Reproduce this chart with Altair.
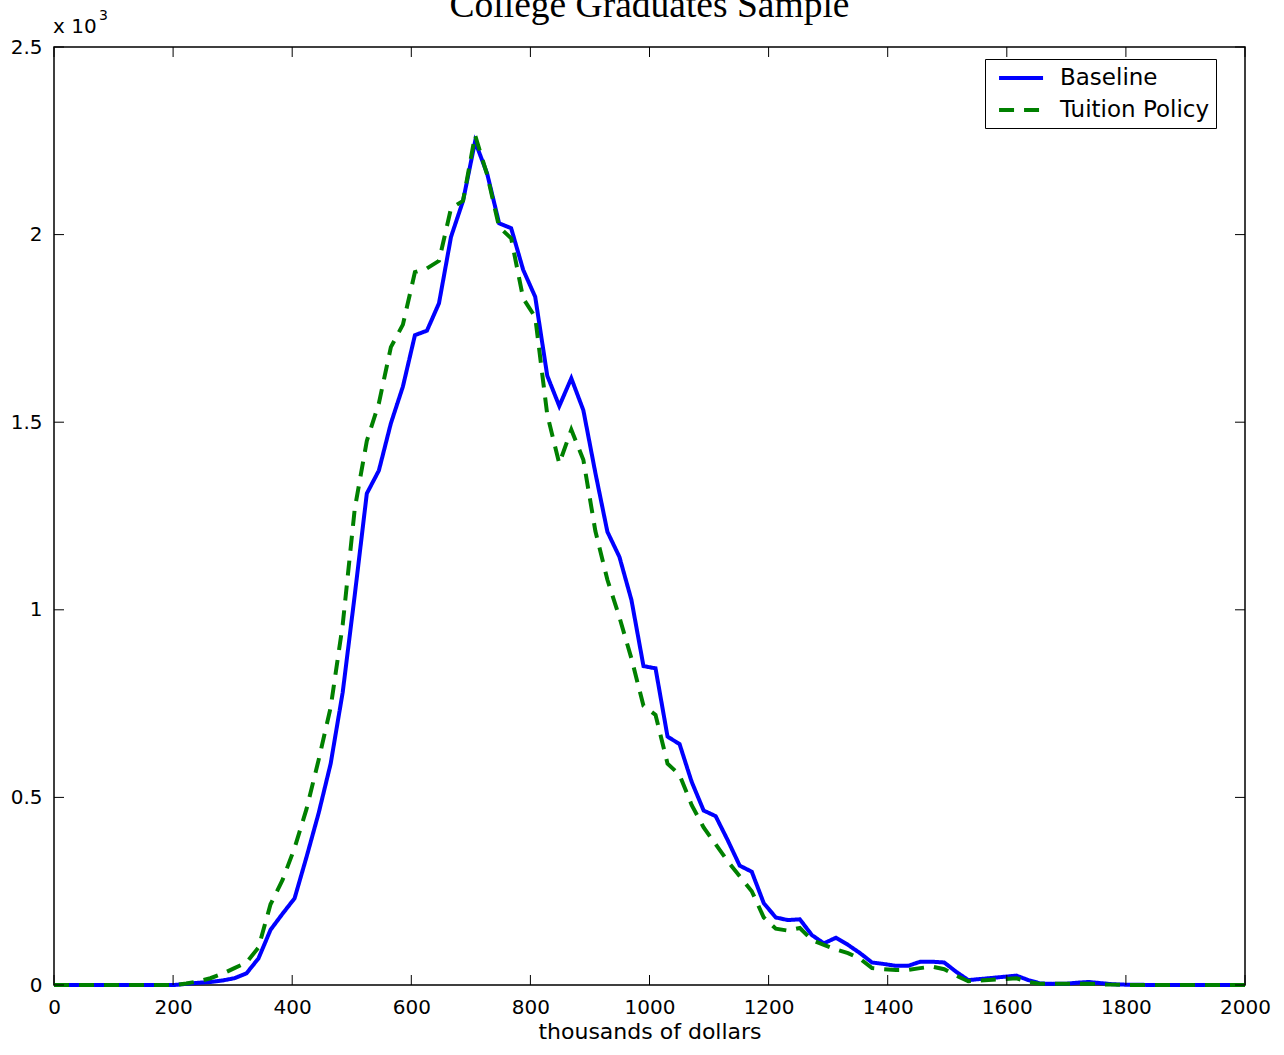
import altair as alt
import pandas as pd

# bin centres (thousands of dollars)
x_vals = [0, 20.2, 40.4, 60.6, 80.8, 101, 121.2, 141.4, 161.6, 181.8,
          202, 222.2, 242.4, 262.6, 282.8, 303, 323.2, 343.4, 363.6, 383.8,
          404, 424.2, 444.4, 464.6, 484.8, 505.1, 525.3, 545.5, 565.7, 585.9,
          606.1, 626.3, 646.5, 666.7, 686.9, 707.1, 727.3, 747.5, 767.7, 787.9,
          808.1, 828.3, 848.5, 868.7, 888.9, 909.1, 929.3, 949.5, 969.7, 989.9,
          1010.1, 1030.3, 1050.5, 1070.7, 1090.9, 1111.1, 1131.3, 1151.5, 1171.7, 1191.9,
          1212.1, 1232.3, 1252.5, 1272.7, 1292.9, 1313.1, 1333.3, 1353.5, 1373.7, 1393.9,
          1414.1, 1434.3, 1454.5, 1474.7, 1494.9, 1515.2, 1535.4, 1555.6, 1575.8, 1596,
          1616.2, 1636.4, 1656.6, 1676.8, 1697, 1717.2, 1737.4, 1757.6, 1777.8, 1798,
          1818.2, 1838.4, 1858.6, 1878.8, 1899, 1919.2, 1939.4, 1959.6, 1979.8, 2000]

# counts in thousands (x 10^3)
baseline = [0, 0, 0, 0, 0, 0, 0, 0, 0, 0,
            0, 0.003, 0.006, 0.008, 0.012, 0.018, 0.031, 0.071, 0.147, 0.19,
            0.231, 0.342, 0.458, 0.59, 0.78, 1.04, 1.31, 1.371, 1.497, 1.595,
            1.732, 1.744, 1.817, 1.994, 2.09, 2.248, 2.163, 2.03, 2.017, 1.906,
            1.834, 1.624, 1.543, 1.617, 1.532, 1.365, 1.208, 1.141, 1.026, 0.85,
            0.844, 0.662, 0.642, 0.542, 0.465, 0.45, 0.386, 0.318, 0.302, 0.218,
            0.18, 0.173, 0.175, 0.133, 0.111, 0.126, 0.107, 0.085, 0.06, 0.056,
            0.051, 0.051, 0.062, 0.062, 0.06, 0.035, 0.013, 0.016, 0.019, 0.022,
            0.025, 0.013, 0.004, 0.003, 0.003, 0.006, 0.008, 0.005, 0.002, 0.001,
            0.001, 0, 0, 0, 0, 0, 0, 0, 0, 0]

tuition = [0, 0, 0, 0, 0, 0, 0, 0, 0, 0,
           0, 0.004, 0.01, 0.018, 0.03, 0.045, 0.06, 0.1, 0.215, 0.28,
           0.365, 0.47, 0.6, 0.74, 0.96, 1.27, 1.45, 1.55, 1.7, 1.76,
           1.9, 1.91, 1.93, 2.07, 2.09, 2.265, 2.16, 2.02, 1.99, 1.83,
           1.78, 1.52, 1.39, 1.48, 1.4, 1.21, 1.08, 0.98, 0.87, 0.744,
           0.72, 0.59, 0.56, 0.48, 0.42, 0.375, 0.33, 0.29, 0.25, 0.18,
           0.15, 0.145, 0.152, 0.12, 0.107, 0.095, 0.085, 0.07, 0.045, 0.042,
           0.04, 0.04, 0.045, 0.049, 0.042, 0.025, 0.01, 0.012, 0.014, 0.016,
           0.018, 0.008, 0.003, 0.003, 0.003, 0.003, 0.003, 0.002, 0.001, 0,
           0, 0, 0, 0, 0, 0, 0, 0, 0, 0]

series_names = ["Baseline", "Tuition Policy"]
series_colors = ["#0000ff", "#008000"]
x_ticks = [0, 200, 400, 600, 800, 1000, 1200, 1400, 1600, 1800, 2000]
y_ticks = [0, 0.5, 1, 1.5, 2, 2.5]
title_text = "College Graduates Sample"
x_title = "thousands of dollars"

W, H = 1191, 938
FONT = "DejaVu Sans"

df = pd.DataFrame({
    "x": x_vals + x_vals,
    "y": baseline + tuition,
    "series": [series_names[0]] * len(x_vals) + [series_names[1]] * len(x_vals),
    "order": [0] * len(x_vals) + [1] * len(x_vals),
})

xscale = alt.Scale(domain=[0, 2000], nice=False)
yscale = alt.Scale(domain=[0, 2.5], nice=False)

xaxis = alt.Axis(values=x_ticks, title=x_title, format="d", labelPadding=12,
                 labelOverlap=False, labelFlush=False,
                 titleY=53, titleBaseline="alphabetic", titleFontSize=22)
yaxis = alt.Axis(values=y_ticks, title=None, format="~g", labelPadding=12,
                 labelOverlap=False, labelFlush=False)

legend = alt.Legend(title=None, labelExpr="datum.label + '\u00a0\u00a0'")

lines = alt.Chart(df).mark_line(strokeWidth=4).encode(
    x=alt.X("x:Q", scale=xscale, axis=xaxis, title=x_title),
    y=alt.Y("y:Q", scale=yscale, axis=yaxis, title=None),
    color=alt.Color("series:N", scale=alt.Scale(domain=series_names, range=series_colors),
                    legend=legend),
    strokeDash=alt.StrokeDash("series:N",
                              scale=alt.Scale(domain=series_names, range=[[1, 0], [15, 10]]),
                              legend=legend),
    order="order:Q",
)

xt = pd.DataFrame({"v": x_ticks})
yt = pd.DataFrame({"v": y_ticks})

tick_b = alt.Chart(xt).mark_rule(color="black", strokeWidth=1).encode(
    x=alt.X("v:Q", scale=xscale, axis=xaxis, title=x_title), y=alt.value(H), y2=alt.value(H - 10))
tick_t = alt.Chart(xt).mark_rule(color="black", strokeWidth=1).encode(
    x=alt.X("v:Q", scale=xscale, axis=xaxis, title=x_title), y=alt.value(0), y2=alt.value(10))
tick_l = alt.Chart(yt).mark_rule(color="black", strokeWidth=1).encode(
    y=alt.Y("v:Q", scale=yscale, axis=yaxis, title=None), x=alt.value(0), x2=alt.value(10))
tick_r = alt.Chart(yt).mark_rule(color="black", strokeWidth=1).encode(
    y=alt.Y("v:Q", scale=yscale, axis=yaxis, title=None), x=alt.value(W), x2=alt.value(W - 10))

title = alt.Chart(pd.DataFrame({"t": [title_text]})).mark_text(
    font="Liberation Serif", fontSize=37.5, align="center", baseline="alphabetic",
    color="black").encode(text="t:N", x=alt.value(W / 2), y=alt.value(-30))

mult = alt.Chart(pd.DataFrame({"t": ["x 10"]})).mark_text(
    font=FONT, fontSize=20, align="left", baseline="alphabetic",
    color="black").encode(text="t:N", x=alt.value(-1), y=alt.value(-14))
mult_exp = alt.Chart(pd.DataFrame({"t": ["3"]})).mark_text(
    font=FONT, fontSize=14, align="left", baseline="alphabetic",
    color="black").encode(text="t:N", x=alt.value(45), y=alt.value(-27))

chart = alt.layer(lines, tick_b, tick_t, tick_l, tick_r, title, mult, mult_exp).properties(
    width=W, height=H,
    autosize=alt.AutoSizeParams(type="none"),
    padding={"left": 54, "top": 47, "right": 39, "bottom": 70},
).configure_view(
    stroke="black", strokeWidth=1.5
).configure_axis(
    domain=False, ticks=False, grid=False,
    labelColor="black", labelFont=FONT, labelFontSize=20,
    titleColor="black", titleFont=FONT, titleFontWeight="normal",
).configure_legend(
    orient="none", legendX=931, legendY=12,
    strokeColor="black", fillColor="white", padding=6,
    labelFont=FONT, labelFontSize=23, labelColor="black",
    symbolType="M-0.45,0H3.55", symbolSize=484, symbolStrokeWidth=4, labelOffset=43,
    rowPadding=7,
)

chart.save("out.html", embed_options={"renderer": "svg", "actions": False})
